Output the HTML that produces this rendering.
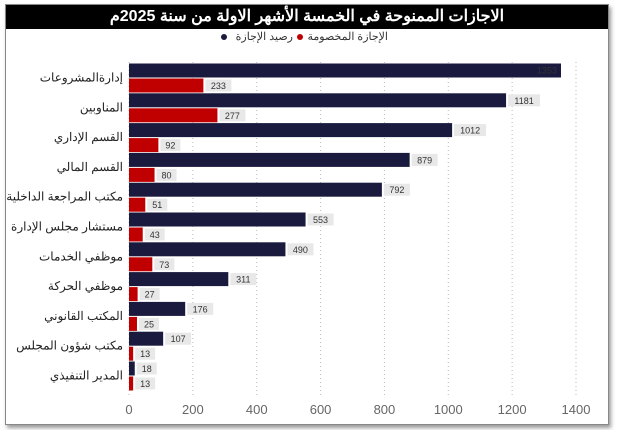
<!DOCTYPE html>
<html><head><meta charset="utf-8"><style>
body{margin:0;background:#fff;width:618px;height:430px;overflow:hidden;font-family:"Liberation Sans","Noto Sans CJK SC",sans-serif}
#frame{position:absolute;left:5px;top:4px;width:602px;height:419px;border:1px solid #888;box-shadow:2px 3px 4px #999;background:#fff}
#title{position:absolute;left:0;top:0;width:602px;height:24px;background:#000;color:#fff;font-weight:bold;font-size:16px;text-align:center;line-height:24px;direction:rtl}
</style></head><body>
<div id="frame">
<div id="title">الاجازات الممنوحة في الخمسة الأشهر الاولة من سنة 2025م</div>
</div>
<svg id="chart" width="618" height="430" style="position:absolute;left:0;top:0"></svg>
<script>
const categories=["إدارةالمشروعات","المناوبين","القسم الإداري","القسم المالي","مكتب المراجعة الداخلية","مستشار مجلس الإدارة","موظفي الخدمات","موظفي الحركة","المكتب القانوني","مكتب شؤون المجلس","المدير التنفيذي"];
const balanceValues=[1353,1181,1012,879,792,553,490,311,176,107,18];
const deductedValues=[233,277,92,80,51,43,73,27,25,13,13];
const ticks=[0,200,400,600,800,1000,1200,1400];
const NS="http://www.w3.org/2000/svg";
const svg=document.getElementById('chart');
const x0=129,x1=576,xmax=1400;
const xs=v=>x0+(v/xmax)*(x1-x0);
const rowTop=i=>63.5+i*29.8;
function el(t,a,txt){const e=document.createElementNS(NS,t);for(const k in a)e.setAttribute(k,a[k]);if(txt!==undefined)e.textContent=txt;svg.appendChild(e);return e;}
ticks.forEach(t=>{
 const g=el('line',{x1:xs(t),x2:xs(t),y1:62,y2:397,stroke:'#bbb','stroke-dasharray':'1,3'});
 
 
 const l=el('text',{x:xs(t),y:414,'text-anchor':'middle','font-size':13,fill:'#666'},t);
 
 
});
// legend
const l1=el('text',{x:388,y:40,'text-anchor':'end','font-size':11,fill:'#333'},'الإجازة المخصومة');


el('circle',{cx:300,cy:37,r:3,fill:'#c00000'});
const l2=el('text',{x:293,y:40,'text-anchor':'end','font-size':11,fill:'#333'},'رصيد الإجازة');


el('circle',{cx:224,cy:37,r:3,fill:'#1a1a3e'});
function label(v,xe,y,inside){
 const s=String(v),w=s.length*6+8;
 if(inside){
  const t=el('text',{x:xe-4,y:y+10,'text-anchor':'end','font-size':9,fill:'#333'},s);
  
  
  return;
 }
 el('rect',{x:xe+2,y:y+1,width:w,height:12,fill:'#e8e8e8'});
 const t=el('text',{x:xe+2+w/2,y:y+10.5,'text-anchor':'middle','font-size':9,fill:'#333'},s);
 
 
}
categories.forEach((c,i)=>{
 const y=rowTop(i);
 const b=el('rect',{x:x0,y:y,width:xs(balanceValues[i])-x0,height:14,fill:'#1a1a3e'});
 
 
 const r=el('rect',{x:x0,y:y+15,width:xs(deductedValues[i])-x0,height:14,fill:'#c00000'});
 
 
 label(balanceValues[i],xs(balanceValues[i]),y,balanceValues[i]>1300);
 label(deductedValues[i],xs(deductedValues[i]),y+15,false);
 const t=el('text',{x:123,y:y+18,'text-anchor':'end','font-size':12,fill:'#222'},c);
 
 
});
</script>
</body></html>
